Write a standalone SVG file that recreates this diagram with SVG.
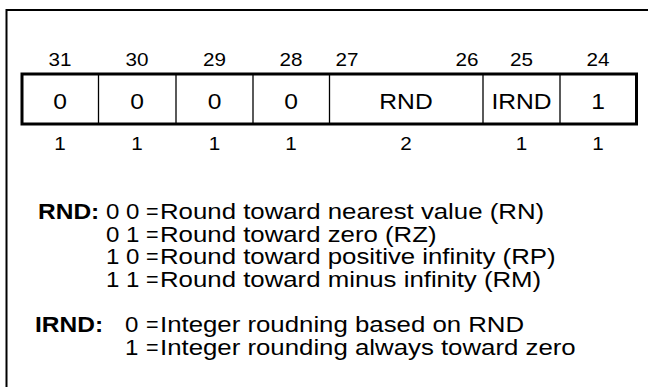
<svg xmlns="http://www.w3.org/2000/svg" width="648" height="387" viewBox="0 0 648 387">
<style>
text{font-family:"Liberation Sans",Arial,Helvetica,sans-serif;fill:#000}
.bit{font-size:17.5px;text-anchor:middle}
.val{font-size:22px;text-anchor:middle}
.leg{font-size:21.5px}
.b{font-weight:bold}
.div{stroke:#000;stroke-width:1.3}
</style>
<rect width="648" height="387" fill="#fff"/>
<path d="M6.5,387 V10 H648" fill="none" stroke="#000" stroke-width="2"/>
<g id="register">
<rect x="22" y="74" width="614.5" height="50" fill="none" stroke="#000" stroke-width="3"/>
<g id="bit31"><text class="bit" transform="translate(60,66) scale(1.18 1)">31</text><text class="val" transform="translate(60,109) scale(1.12 1)">0</text><text class="bit" transform="translate(60,149.5) scale(1.18 1)">1</text></g>
<g id="bit30"><line class="div" x1="98.5" y1="75" x2="98.5" y2="123"/><text class="bit" transform="translate(137,66) scale(1.18 1)">30</text><text class="val" transform="translate(137,109) scale(1.12 1)">0</text><text class="bit" transform="translate(137,149.5) scale(1.18 1)">1</text></g>
<g id="bit29"><line class="div" x1="176" y1="75" x2="176" y2="123"/><text class="bit" transform="translate(214.5,66) scale(1.18 1)">29</text><text class="val" transform="translate(214.5,109) scale(1.12 1)">0</text><text class="bit" transform="translate(214.5,149.5) scale(1.18 1)">1</text></g>
<g id="bit28"><line class="div" x1="253" y1="75" x2="253" y2="123"/><text class="bit" transform="translate(291,66) scale(1.18 1)">28</text><text class="val" transform="translate(291,109) scale(1.12 1)">0</text><text class="bit" transform="translate(291,149.5) scale(1.18 1)">1</text></g>
<g id="field-rnd"><line class="div" x1="329.5" y1="75" x2="329.5" y2="123"/><text class="bit" transform="translate(347,66) scale(1.18 1)">27</text><text class="bit" transform="translate(467,66) scale(1.18 1)">26</text><text class="val" transform="translate(406,109) scale(1.12 1)">RND</text><text class="bit" transform="translate(406,149.5) scale(1.18 1)">2</text></g>
<g id="field-irnd"><line class="div" x1="483" y1="75" x2="483" y2="123"/><text class="bit" transform="translate(521.5,66) scale(1.18 1)">25</text><text class="val" transform="translate(521.5,109) scale(1.12 1)">IRND</text><text class="bit" transform="translate(521.5,149.5) scale(1.18 1)">1</text></g>
<g id="bit24"><line class="div" x1="560" y1="75" x2="560" y2="123"/><text class="bit" transform="translate(598,66) scale(1.18 1)">24</text><text class="val" transform="translate(598,109) scale(1.12 1)">1</text><text class="bit" transform="translate(598,149.5) scale(1.18 1)">1</text></g>
</g>
<g id="legend-rnd">
<text class="leg b" transform="translate(38,219) scale(1.14 1)">RND:</text>
<text class="leg" transform="translate(106,219) scale(1.12 1)">0 0</text>
<text class="leg" x="146" y="219">=</text>
<text class="leg" transform="translate(160,219) scale(1.2 1)">Round toward nearest value (RN)</text>
<text class="leg" transform="translate(106,241.5) scale(1.12 1)">0 1</text>
<text class="leg" x="146" y="241.5">=</text>
<text class="leg" transform="translate(160,241.5) scale(1.2 1)">Round toward zero (RZ)</text>
<text class="leg" transform="translate(106,264) scale(1.12 1)">1 0</text>
<text class="leg" x="146" y="264">=</text>
<text class="leg" transform="translate(160,264) scale(1.2 1)">Round toward positive infinity (RP)</text>
<text class="leg" transform="translate(106,286.5) scale(1.12 1)">1 1</text>
<text class="leg" x="146" y="286.5">=</text>
<text class="leg" transform="translate(160,286.5) scale(1.2 1)">Round toward minus infinity (RM)</text>
</g>
<g id="legend-irnd">
<text class="leg b" transform="translate(35,332) scale(1.14 1)">IRND:</text>
<text class="leg" text-anchor="end" transform="translate(138.5,332) scale(1.12 1)">0</text>
<text class="leg" x="146" y="332">=</text>
<text class="leg" transform="translate(160,332) scale(1.2 1)">Integer roudning based on RND</text>
<text class="leg" text-anchor="end" transform="translate(138.5,355) scale(1.12 1)">1</text>
<text class="leg" x="146" y="355">=</text>
<text class="leg" transform="translate(160,355) scale(1.2 1)">Integer rounding always toward zero</text>
</g>
</svg>
